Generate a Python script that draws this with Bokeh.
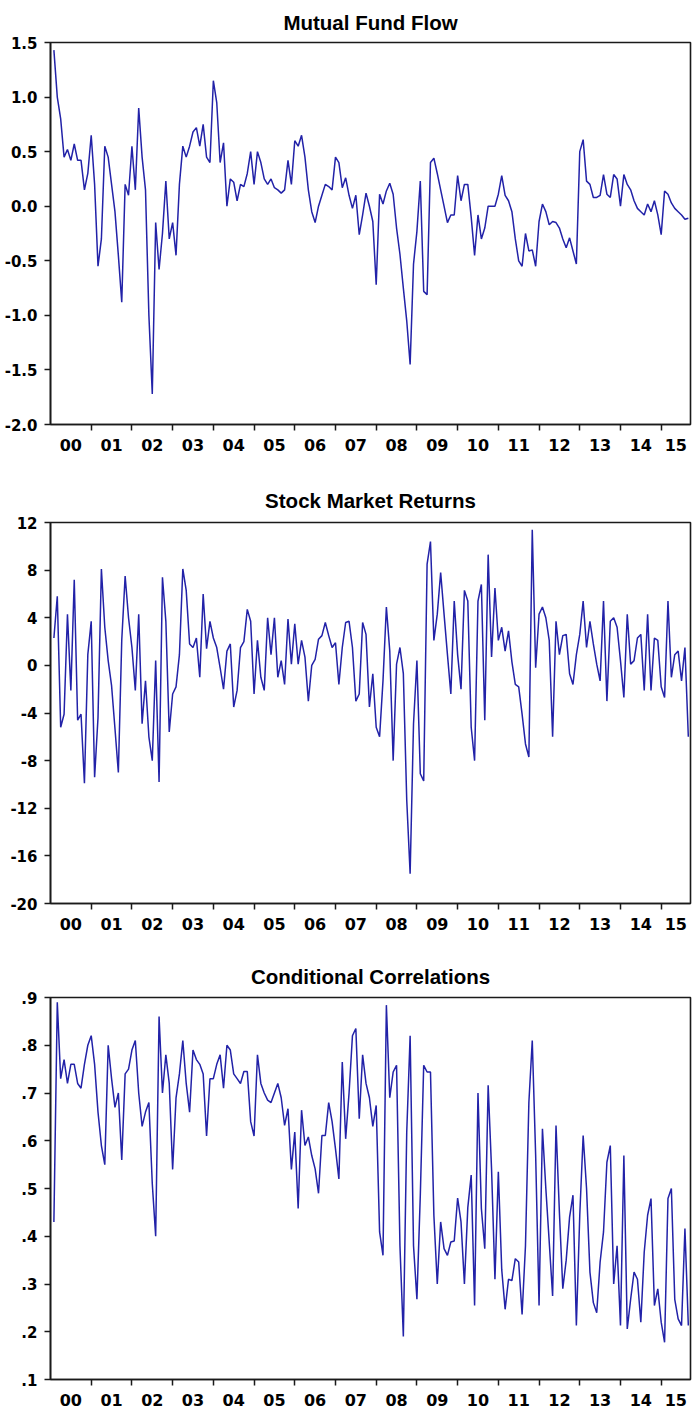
import numpy as np
from bokeh.plotting import figure
from bokeh.models import FixedTicker, CustomJSTickFormatter, Range1d
from bokeh.layouts import column
from bokeh.embed import file_html
from bokeh.resources import INLINE

# ---------------- data (monthly, Jan 2000 - Aug 2015) ----------------
start_year = 2000
flow = [
    1.43, 1.0, 0.8, 0.45, 0.52, 0.42, 0.57, 0.42, 0.42, 0.15, 0.3, 0.65,          # 2000
    0.2, -0.55, -0.3, 0.55, 0.45, 0.2, -0.05, -0.45, -0.88, 0.2, 0.1, 0.55,       # 2001
    0.15, 0.9, 0.45, 0.15, -1.0, -1.72, -0.15, -0.58, -0.25, 0.23, -0.3, -0.15,   # 2002
    -0.45, 0.2, 0.55, 0.45, 0.55, 0.68, 0.72, 0.55, 0.75, 0.45, 0.4, 1.15,        # 2003
    0.95, 0.4, 0.58, 0.0, 0.25, 0.22, 0.05, 0.2, 0.18, 0.3, 0.5, 0.2,             # 2004
    0.5, 0.4, 0.25, 0.2, 0.25, 0.17, 0.15, 0.12, 0.15, 0.42, 0.2, 0.6,            # 2005
    0.55, 0.65, 0.45, 0.15, -0.05, -0.15, 0.0, 0.1, 0.2, 0.18, 0.15, 0.45,        # 2006
    0.4, 0.17, 0.26, 0.1, -0.02, 0.1, -0.26, -0.08, 0.12, 0.0, -0.14, -0.72,      # 2007
    0.11, 0.02, 0.14, 0.21, 0.11, -0.2, -0.44, -0.75, -1.05, -1.45, -0.53, -0.23, # 2008
    0.23, -0.78, -0.81, 0.4, 0.44, 0.3, 0.15, 0.0, -0.15, -0.08, -0.08, 0.28,     # 2009
    0.05, 0.2, 0.2, -0.1, -0.45, -0.08, -0.3, -0.2, 0.0, 0.0, 0.0, 0.11,          # 2010
    0.28, 0.1, 0.05, -0.05, -0.3, -0.5, -0.55, -0.25, -0.41, -0.4, -0.55, -0.14,  # 2011
    0.02, -0.05, -0.17, -0.14, -0.15, -0.2, -0.3, -0.38, -0.29, -0.41, -0.53, 0.5,# 2012
    0.61, 0.23, 0.2, 0.08, 0.08, 0.1, 0.29, 0.11, 0.08, 0.29, 0.25, 0.0,          # 2013
    0.29, 0.2, 0.15, 0.05, -0.02, -0.05, -0.08, 0.02, -0.05, 0.05, -0.08, -0.26,  # 2014
    0.14, 0.11, 0.03, -0.02, -0.05, -0.08, -0.12, -0.11,                          # 2015
]
returns = [
    2.3, 5.8, -5.2, -4.1, 4.3, -2.1, 7.2, -4.6, -4.1, -9.9, 0.9, 3.7,       # 2000
    -9.4, -4.4, 8.1, 3.2, 0.4, -1.7, -5.3, -9.0, 2.1, 7.5, 4.0, 1.5,        # 2001
    -2.1, 4.3, -4.9, -1.3, -6.0, -8.0, 0.4, -9.8, 7.4, 3.7, -5.6, -2.4,     # 2002
    -1.8, 0.9, 8.1, 6.3, 1.8, 1.5, 2.3, -1.0, 6.0, 1.4, 3.7, 2.3,           # 2003
    1.5, -0.2, -2.0, 1.2, 1.8, -3.5, -2.1, 1.5, 2.0, 4.7, 3.7, -2.4,        # 2004
    2.1, -1.0, -2.1, 4.0, 0.9, 4.0, -1.0, 0.4, -1.6, 3.9, 0.1, 3.5,         # 2005
    0.1, 2.1, 0.7, -3.0, 0.0, 0.5, 2.2, 2.5, 3.6, 2.5, 1.5, 1.9,            # 2006
    -1.6, 1.5, 3.6, 3.7, 1.5, -3.0, -2.4, 3.6, 2.6, -3.5, -0.7, -5.2,       # 2007
    -6.0, -1.3, 4.9, 1.2, -8.0, 0.1, 1.5, -0.7, -11.3, -17.5, -4.9, 0.4,    # 2008
    -9.1, -9.7, 8.5, 10.4, 2.1, 4.3, 7.8, 4.3, 0.9, -2.4, 5.4, 0.9,         # 2009
    -2.0, 6.3, 5.4, -5.2, -8.0, 5.4, 6.8, -4.6, 9.3, 0.7, 6.5, 2.1,         # 2010
    3.2, 1.2, 2.9, 0.3, -1.6, -1.8, -4.1, -6.6, -7.7, 11.4, -0.2, 4.3,      # 2011
    4.9, 4.0, 2.1, -6.0, 3.7, 0.9, 2.5, 2.6, -0.7, -1.6, 0.9, 2.6,          # 2012
    5.4, 1.5, 3.7, 1.8, 0.1, -1.3, 5.4, -3.0, 3.7, 4.0, 3.2, 0.4,           # 2013
    -2.7, 4.3, 0.1, 0.4, 2.3, 2.6, -2.1, 4.3, -2.1, 2.3, 2.1, -1.8,         # 2014
    -2.7, 5.4, -1.0, 0.9, 1.2, -1.3, 1.5, -6.0,                             # 2015
]
correl = [
    0.43, 0.89, 0.73, 0.77, 0.72, 0.76, 0.76, 0.72, 0.71, 0.76, 0.80, 0.82,          # 2000
    0.76, 0.66, 0.59, 0.55, 0.80, 0.73, 0.67, 0.70, 0.56, 0.74, 0.75, 0.79,          # 2001
    0.81, 0.70, 0.63, 0.66, 0.68, 0.51, 0.40, 0.86, 0.70, 0.78, 0.72, 0.54,          # 2002
    0.69, 0.74, 0.81, 0.72, 0.66, 0.79, 0.77, 0.76, 0.74, 0.61, 0.73, 0.73,          # 2003
    0.76, 0.78, 0.71, 0.80, 0.79, 0.74, 0.73, 0.72, 0.745, 0.745, 0.64, 0.61,        # 2004
    0.78, 0.72, 0.70, 0.685, 0.68, 0.70, 0.72, 0.69, 0.632, 0.667, 0.54, 0.618,      # 2005
    0.458, 0.664, 0.59, 0.608, 0.569, 0.541, 0.49, 0.611, 0.611, 0.68, 0.64, 0.583,  # 2006
    0.52, 0.765, 0.604, 0.70, 0.82, 0.835, 0.646, 0.78, 0.72, 0.69, 0.63, 0.674,     # 2007
    0.409, 0.36, 0.884, 0.69, 0.744, 0.758, 0.38, 0.19, 0.618, 0.82, 0.38, 0.268,    # 2008
    0.486, 0.758, 0.744, 0.744, 0.444, 0.30, 0.43, 0.374, 0.36, 0.388, 0.39, 0.48,   # 2009
    0.43, 0.30, 0.46, 0.528, 0.255, 0.70, 0.458, 0.374, 0.716, 0.541, 0.31, 0.535,   # 2010
    0.33, 0.247, 0.31, 0.307, 0.353, 0.346, 0.236, 0.38, 0.68, 0.81, 0.569, 0.255,   # 2011
    0.625, 0.50, 0.388, 0.275, 0.632, 0.45, 0.29, 0.35, 0.44, 0.486, 0.213, 0.444,   # 2012
    0.611, 0.50, 0.325, 0.261, 0.24, 0.346, 0.409, 0.555, 0.59, 0.30, 0.38, 0.213,   # 2013
    0.569, 0.206, 0.268, 0.325, 0.31, 0.22, 0.367, 0.444, 0.479, 0.255, 0.29, 0.22,  # 2014
    0.178, 0.479, 0.50, 0.268, 0.227, 0.213, 0.416, 0.213,                           # 2015
]

titles = ["Mutual Fund Flow", "Stock Market Returns", "Conditional Correlations"]
year_labels = ["00", "01", "02", "03", "04", "05", "06", "07",
               "08", "09", "10", "11", "12", "13", "14", "15"]
flow_ticks = [-2.0, -1.5, -1.0, -0.5, 0.0, 0.5, 1.0, 1.5]
returns_ticks = [-20, -16, -12, -8, -4, 0, 4, 8, 12]
correl_ticks = [0.1, 0.2, 0.3, 0.4, 0.5, 0.6, 0.7, 0.8, 0.9]

# ---------------- layout / style ----------------
n = len(flow)
xs = start_year + (np.arange(n) + 1) / 12.0
x_end = 2015.72
year_bounds = list(range(2001, 2016))
label_pos = [y + 0.5 for y in range(2000, 2015)] + [(2015 + x_end) / 2]

TITLE_FONT = "Liberation Sans"
TICK_FONT = "DejaVu Sans"
LINE = "#2222a8"
FRAME = "#1a1a1a"


def panel(title, vals, ticks, js_fmt, height, top, bottom, title_standoff):
    p = figure(width=692, height=height,
               x_range=Range1d(2000, x_end),
               y_range=Range1d(ticks[0], ticks[-1]),
               output_backend="svg", toolbar_location=None,
               min_border_left=50, min_border_right=2,
               min_border_top=top, min_border_bottom=bottom)
    p.title.text = title
    p.title.align = "center"
    p.title.vertical_align = "bottom"
    p.title.text_font = TITLE_FONT
    p.title.text_font_size = "20.5px"
    p.title.text_font_style = "bold"
    p.title.text_color = "#000000"
    p.title.text_line_height = 1.0
    p.title.standoff = title_standoff

    p.line(xs, vals, line_color=LINE, line_width=1.5)

    p.xgrid.visible = False
    p.ygrid.visible = False
    p.outline_line_color = FRAME
    p.outline_line_width = 1.6
    p.outline_line_alpha = 1.0
    p.background_fill_color = "white"
    p.border_fill_color = "white"

    xa = p.xaxis[0]
    xa.ticker = FixedTicker(ticks=label_pos, minor_ticks=year_bounds)
    xa.formatter = CustomJSTickFormatter(
        args=dict(labs=year_labels),
        code="const i = Math.min(Math.floor(tick - 2000), labs.length - 1); return labs[i];")
    xa.major_tick_line_color = None
    xa.major_tick_out = 0
    xa.major_tick_in = 0
    xa.minor_tick_line_color = FRAME
    xa.minor_tick_line_width = 1.5
    xa.minor_tick_out = 6
    xa.minor_tick_in = 0
    xa.major_label_standoff = 8
    xa.major_label_text_font = TICK_FONT
    xa.major_label_text_font_size = "16px"
    xa.major_label_text_font_style = "bold"
    xa.major_label_text_color = "#000000"
    xa.axis_line_color = FRAME
    xa.axis_line_width = 1.6

    ya = p.yaxis[0]
    ya.ticker = FixedTicker(ticks=ticks, minor_ticks=[])
    ya.formatter = CustomJSTickFormatter(code=js_fmt)
    ya.major_tick_line_color = FRAME
    ya.major_tick_line_width = 1.5
    ya.major_tick_out = 6
    ya.major_tick_in = 0
    ya.minor_tick_line_color = None
    ya.major_label_standoff = 7
    ya.major_label_text_font = TICK_FONT
    ya.major_label_text_font_size = "15px"
    ya.major_label_text_font_style = "bold"
    ya.major_label_text_color = "#000000"
    ya.axis_line_color = FRAME
    ya.axis_line_width = 1.6
    return p


p1 = panel(titles[0], flow, flow_ticks, "return tick.toFixed(1);", 460, 42, 36, 17)
p2 = panel(titles[1], returns, returns_ticks, "return tick.toFixed(0);", 477, 62, 34, 22)
p3 = panel(titles[2], correl, correl_ticks,
           "return tick.toFixed(1).replace(/^(-?)0\\./, '$1.');", 473, 60, 31, 20)

layout = column(p1, p2, p3, spacing=0)
open("out.html", "w").write(file_html(layout, INLINE))
